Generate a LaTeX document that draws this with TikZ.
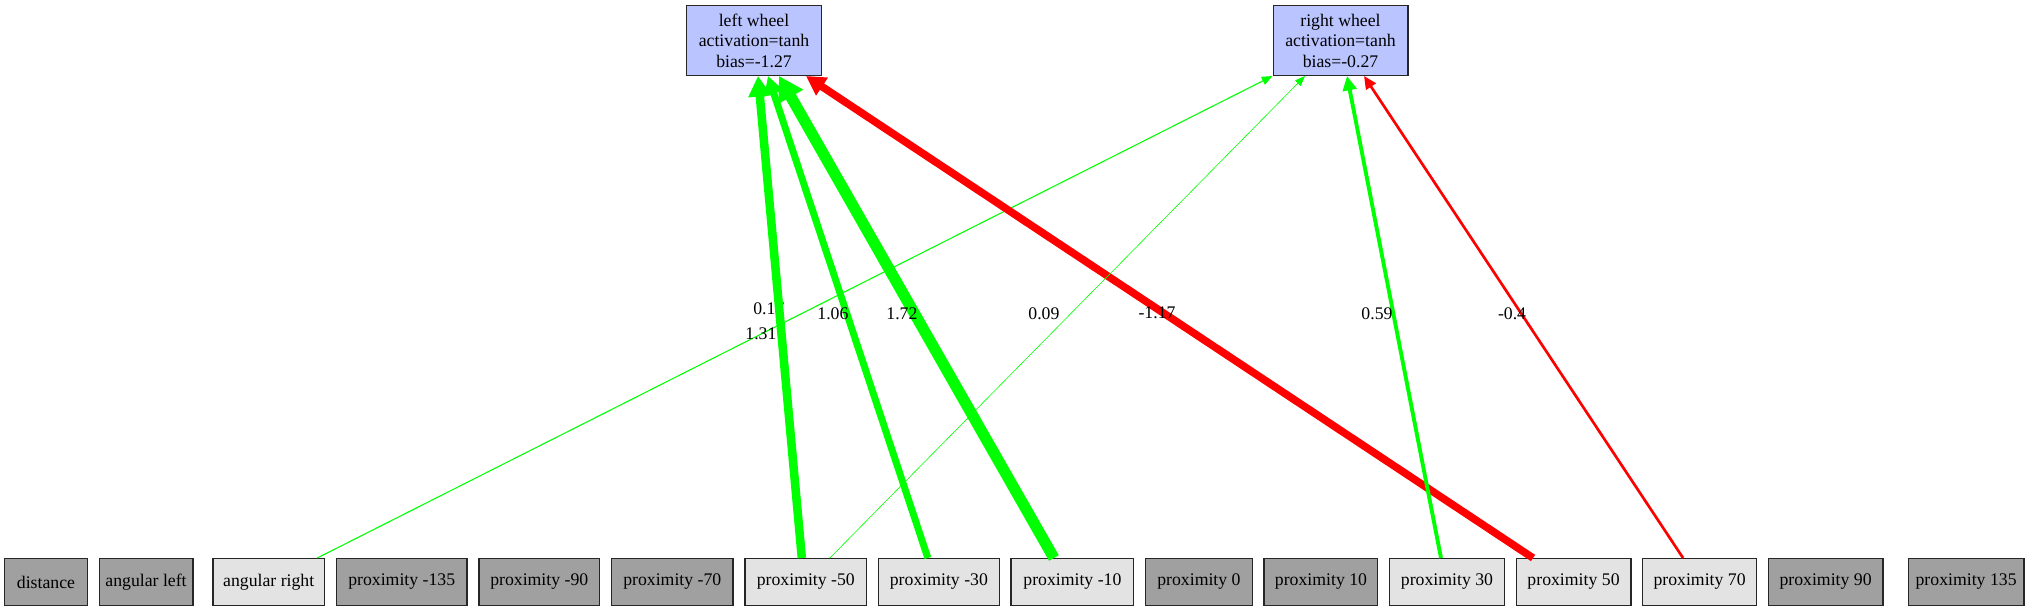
\documentclass[tikz,border=0pt]{standalone}
\usepackage{fontspec}
\setmainfont{Liberation Serif}
\usepackage{tikz}
\usetikzlibrary{arrows.meta,positioning,calc}
\definecolor{inputon}{RGB}{227,227,227}
\definecolor{inputoff}{RGB}{160,160,160}
\definecolor{outputcol}{RGB}{186,196,255}

\begin{document}
\begin{tikzpicture}[x=0.75pt,y=-0.75pt,node distance=7.9pt,
    every node/.style={font=\fontsize{13.3}{15.4}\selectfont},
    sensor/.style={draw=black!85,line width=1pt,minimum height=35pt,inner sep=1pt},
    used/.style={sensor,fill=inputon},
    unused/.style={sensor,fill=inputoff},
    wheel/.style={draw=black!85,line width=1pt,fill=outputcol,align=center,minimum width=101pt,minimum height=52.25pt,inner sep=1pt},
    excite/.style={draw=green,line width=#1},
    inhibit/.style={draw=red,line width=#1},
    >={Triangle[length=7pt 1.3 0,width=5pt 1.8 0]}]
      \useasboundingbox (0,0) rectangle (2039,612);

      \node[unused,minimum width=62pt]                             (Distance) at (46,582) {distance};
      \node[unused,minimum width=70.25pt,right=of Distance]        (AngLeft)   {angular left};
      \node[used,  minimum width=83.75pt,right=14pt of AngLeft]    (AngRight)  {angular right};
      \node[unused,minimum width=98pt,   right=of AngRight]        (ProxM135)  {proximity -135};
      \node[unused,minimum width=90.5pt, right=of ProxM135]        (ProxM90)   {proximity -90};
      \node[unused,minimum width=91.25pt,right=of ProxM90]         (ProxM70)   {proximity -70};
      \node[used,  minimum width=91.25pt,right=of ProxM70]         (ProxM50)   {proximity -50};
      \node[used,  minimum width=90.5pt, right=of ProxM50]         (ProxM30)   {proximity -30};
      \node[used,  minimum width=92pt,   right=of ProxM30]         (ProxM10)   {proximity -10};
      \node[unused,minimum width=80pt,   right=of ProxM10]         (Prox0)     {proximity 0};
      \node[unused,minimum width=85.25pt,right=of Prox0]           (Prox10)    {proximity 10};
      \node[used,  minimum width=86pt,   right=of Prox10]          (Prox30)    {proximity 30};
      \node[used,  minimum width=86pt,   right=of Prox30]          (Prox50)    {proximity 50};
      \node[used,  minimum width=85.25pt,right=of Prox50]          (Prox70)    {proximity 70};
      \node[unused,minimum width=86pt,   right=of Prox70]          (Prox90)    {proximity 90};
      \node[unused,minimum width=86.75pt,right=18pt of Prox90]     (Prox135)   {proximity 135};

      \node[wheel] (LeftWheel)  at (754,40.5)   {left wheel\\activation=tanh\\bias=-1.27};
      \node[wheel] (RightWheel) at (1340.5,40.5) {right wheel\\activation=tanh\\bias=-0.27};

      \path[->] ($(AngRight.north east)+(-8,0)$) edge[excite=0.8pt]  node[shift={(-26,-8.5)}]  {0.17}  (RightWheel.south west)
                ($(ProxM50.north)+(-4,0)$)       edge[excite=6.4pt]  node[shift={(-19,16.5)}]  {1.31}  ($(LeftWheel.south)+(4,0)$)
                ($(ProxM30.north)+(-11,0)$)      edge[excite=5.2pt]  node[shift={(-15,-3.5)}]  {1.06}  ($(LeftWheel.south)+(14,0)$)
                ($(ProxM10.north)+(-18.5,0)$)    edge[excite=8.4pt]  node[shift={(-14.5,-3.5)}]{1.72}  ($(LeftWheel.south)+(25,0)$)
                ($(Prox50.north)+(-40.5,0)$)     edge[inhibit=5.7pt] node[shift={(-12.5,-4.5)}]{-1.17} ($(LeftWheel.south)+(52,0)$)
                ($(ProxM50.north)+(24,0)$)       edge[excite=0.45pt] node[shift={(-23.5,-3.5)}]{0.09}  ($(RightWheel.south)+(-35.5,0)$)
                ($(Prox30.north)+(-6,0)$)        edge[excite=2.9pt]  node[shift={(-17,-3.5)}]  {0.59}  ($(RightWheel.south)+(6.5,0)$)
                ($(Prox70.north)+(-16.5,0)$)     edge[inhibit=2pt]   node[shift={(-11.5,-3.5)}]{-0.4}  ($(RightWheel.south)+(23.5,0)$);
\end{tikzpicture}
\end{document}
